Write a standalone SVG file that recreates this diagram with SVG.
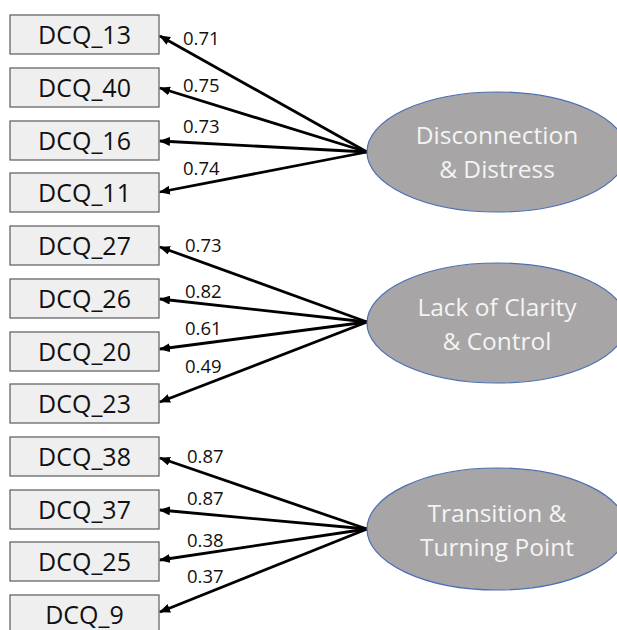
<svg xmlns="http://www.w3.org/2000/svg" width="617" height="630" viewBox="0 0 617 630">
<style>
.box rect{fill:#efefef;stroke:#5a5a5a;stroke-width:1.2}
.box text{font-family:"Open Sans","Noto Sans",sans-serif;font-size:25px;fill:#111;text-anchor:middle}
.lat ellipse{fill:#a7a5a5;stroke:#4a6fb5;stroke-width:1.2}
.lat text{font-family:"Open Sans","Noto Sans",sans-serif;font-size:24.5px;fill:#f4f4f4;text-anchor:middle}
.edges path{stroke:#000;stroke-width:2.8;fill:none;marker-end:url(#ah)}
.lbl{font-family:"Open Sans","Noto Sans",sans-serif;font-size:18.5px;fill:#111}
</style>
<defs>
<marker id="ah" markerUnits="userSpaceOnUse" markerWidth="11" markerHeight="9" refX="10" refY="4.5" orient="auto">
<path d="M0,0 L11,4.5 L0,9 z" fill="#000"/>
</marker>
</defs>
<rect width="617" height="630" fill="#fff"/>

<g id="DCQ_13" class="box"><rect x="10" y="15" width="149" height="39"/><text x="84.5" y="44">DCQ_13</text></g>
<g id="DCQ_40" class="box"><rect x="10" y="68" width="149" height="39"/><text x="84.5" y="97">DCQ_40</text></g>
<g id="DCQ_16" class="box"><rect x="10" y="121" width="149" height="39"/><text x="84.5" y="150">DCQ_16</text></g>
<g id="DCQ_11" class="box"><rect x="10" y="173" width="149" height="39"/><text x="84.5" y="202">DCQ_11</text></g>
<g id="DCQ_27" class="box"><rect x="10" y="226" width="149" height="39"/><text x="84.5" y="255">DCQ_27</text></g>
<g id="DCQ_26" class="box"><rect x="10" y="279" width="149" height="39"/><text x="84.5" y="308">DCQ_26</text></g>
<g id="DCQ_20" class="box"><rect x="10" y="332" width="149" height="39"/><text x="84.5" y="361">DCQ_20</text></g>
<g id="DCQ_23" class="box"><rect x="10" y="384" width="149" height="39"/><text x="84.5" y="413">DCQ_23</text></g>
<g id="DCQ_38" class="box"><rect x="10" y="437" width="149" height="39"/><text x="84.5" y="466">DCQ_38</text></g>
<g id="DCQ_37" class="box"><rect x="10" y="490" width="149" height="39"/><text x="84.5" y="519">DCQ_37</text></g>
<g id="DCQ_25" class="box"><rect x="10" y="542" width="149" height="39"/><text x="84.5" y="571">DCQ_25</text></g>
<g id="DCQ_9" class="box"><rect x="10" y="595" width="149" height="39"/><text x="84.5" y="624">DCQ_9</text></g>

<g id="edges" class="edges">
<path d="M367,152 L160,36"/>
<path d="M367,152 L160,88"/>
<path d="M367,152 L160,141"/>
<path d="M367,152 L160,192"/>
<path d="M367,322 L160,247"/>
<path d="M367,322 L160,299"/>
<path d="M367,322 L160,349"/>
<path d="M367,322 L160,402"/>
<path d="M367,529 L160,458"/>
<path d="M367,529 L160,510"/>
<path d="M367,529 L160,560"/>
<path d="M367,529 L160,612"/>
</g>

<g id="labels">
<text class="lbl" x="183" y="45">0.71</text>
<text class="lbl" x="183" y="92">0.75</text>
<text class="lbl" x="183" y="133">0.73</text>
<text class="lbl" x="183" y="175">0.74</text>
<text class="lbl" x="185" y="252">0.73</text>
<text class="lbl" x="185" y="298">0.82</text>
<text class="lbl" x="185" y="335">0.61</text>
<text class="lbl" x="185" y="373">0.49</text>
<text class="lbl" x="187" y="463">0.87</text>
<text class="lbl" x="187" y="505">0.87</text>
<text class="lbl" x="187" y="547">0.38</text>
<text class="lbl" x="187" y="583">0.37</text>
</g>

<g id="Disconnection" class="lat"><ellipse cx="497" cy="152" rx="130" ry="60"/><text x="497" y="144">Disconnection</text><text x="497" y="178">&amp; Distress</text></g>
<g id="LackOfClarity" class="lat"><ellipse cx="497" cy="323" rx="130" ry="60"/><text x="497" y="316">Lack of Clarity</text><text x="497" y="350">&amp; Control</text></g>
<g id="Transition" class="lat"><ellipse cx="497" cy="529" rx="130" ry="61"/><text x="497" y="522">Transition &amp;</text><text x="497" y="556">Turning Point</text></g>
</svg>
